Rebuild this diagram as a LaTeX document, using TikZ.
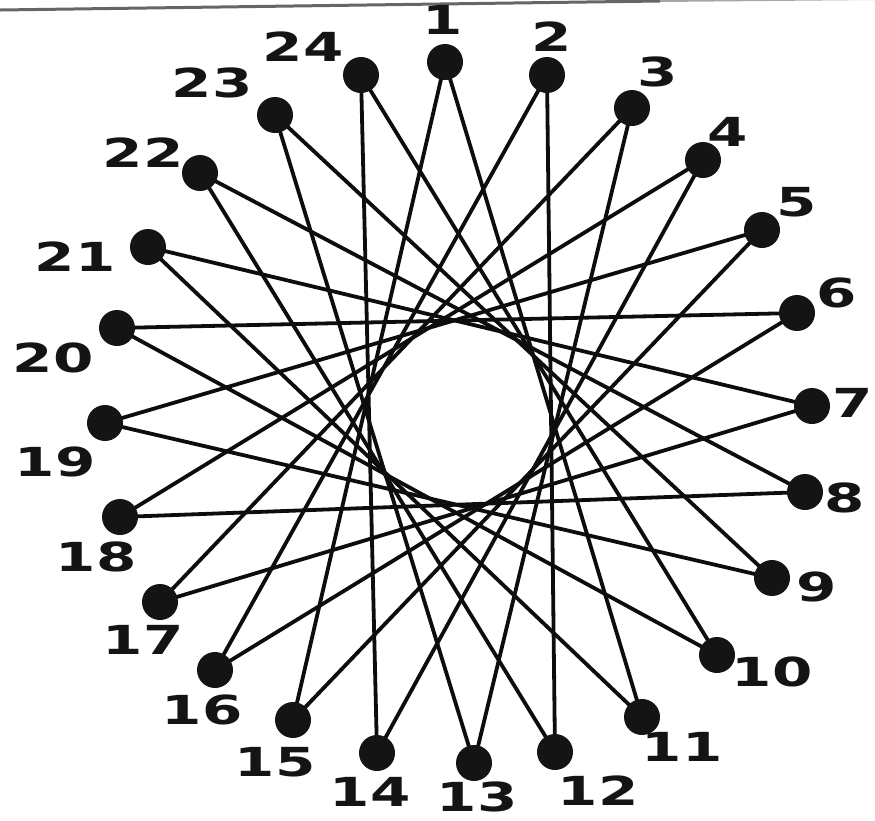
\documentclass[tikz,border=0pt]{standalone}
\usepackage{fontspec}
\usepackage{graphicx}
\setmainfont{DejaVu Sans}
\begin{document}
\begin{tikzpicture}[x=1pt,y=-1pt,
  dot/.style={circle,fill=black!92,inner sep=0pt,minimum size=36pt},
  chord/.style={line width=3.8pt,black!95},
  lab/.style={font=\fontsize{40}{40}\selectfont\bfseries,inner sep=0pt,text=black!92}]
\useasboundingbox (0,0) rectangle (875,820);
\coordinate (bl) at (0,10);
\coordinate (bm) at (660,1);
\coordinate (br) at (875,-1);
\draw[line width=3pt,black!60] (bl) -- (bm);
\draw[line width=2pt,black!35] (bm) -- (br);
\foreach \i/\x/\y in {1/445/62,2/547/75,3/632/108,4/703/160,5/762/230,6/797/313,
  7/812/406,8/805/492,9/772/578,10/717/655,11/642/717,12/555/752,13/474/763,
  14/377/753,15/293/720,16/215/670,17/160/602,18/120/517,19/105/423,20/117/328,
  21/148/247,22/200/173,23/275/115,24/361/75}
  \coordinate (c\i) at (\x,\y);
\foreach \i in {1,...,24}{
  \pgfmathtruncatemacro\j{mod(\i+9,24)+1}
  \draw[chord] (c\i) -- (c\j);
}
\foreach \i in {1,...,24}
  \node[dot] (p\i) at (c\i) {};
\foreach \i/\x/\y in {1/443/20,2/552/37,3/658/72,4/728/132,5/797/202,6/837/293,
  7/853/403,8/845/498,9/817/587,10/772/672,11/682/747,12/598/791,13/477/797,
  14/370/792,15/275/762,16/202/710,17/143/640,18/96/557,19/55/462,20/53/358,
  21/75/257,22/143/153,23/212/83,24/303/47}
  \node[lab] (l\i) at (\x,\y) {\scalebox{1.45}[1]{\i}};
\end{tikzpicture}
\end{document}
